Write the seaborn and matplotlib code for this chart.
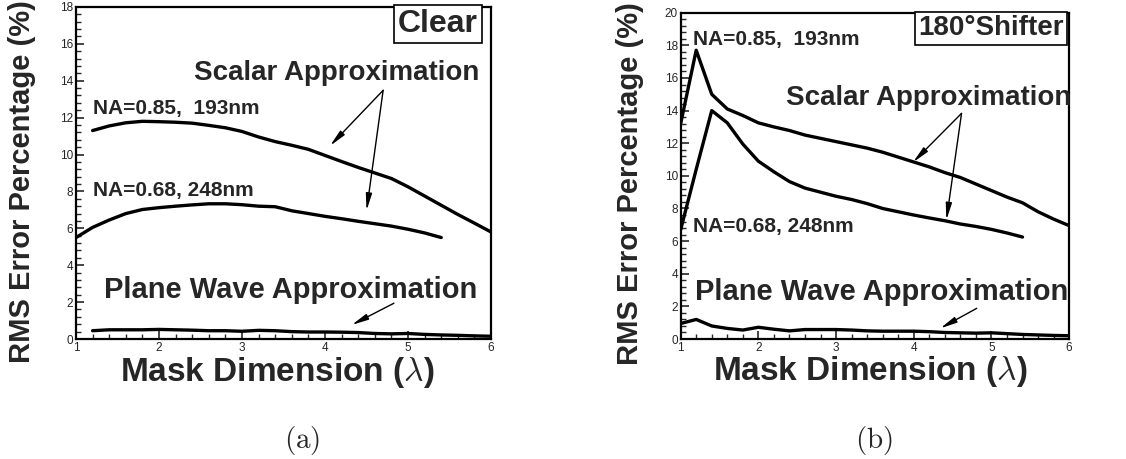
import numpy as np
import pandas as pd
import matplotlib
matplotlib.use('Agg')
import matplotlib.pyplot as plt
import seaborn as sns
from matplotlib.ticker import MultipleLocator

sns.set_style('white')
plt.rcParams['font.family'] = ['Liberation Sans', 'DejaVu Sans']
plt.rcParams['mathtext.fontset'] = 'cm'

# ---- data ----
# (a) Clear mask
clear_x_193 = [1.2, 1.4, 1.6, 1.8, 2.0, 2.2, 2.4, 2.6, 2.8, 3.0, 3.2, 3.4, 3.6,
               3.8, 4.0, 4.2, 4.4, 4.6, 4.8, 5.0, 5.2, 5.4, 5.6, 5.8, 6.0]
clear_y_193 = [11.3, 11.55, 11.72, 11.8, 11.78, 11.75, 11.7, 11.58, 11.45, 11.25,
               10.95, 10.7, 10.5, 10.28, 9.95, 9.62, 9.3, 9.0, 8.7, 8.25, 7.75,
               7.25, 6.75, 6.28, 5.8]
clear_x_248 = [1.0, 1.2, 1.4, 1.6, 1.8, 2.0, 2.2, 2.4, 2.6, 2.8, 3.0, 3.2, 3.4,
               3.6, 3.8, 4.0, 4.2, 4.4, 4.6, 4.8, 5.0, 5.2, 5.4]
clear_y_248 = [5.5, 6.05, 6.45, 6.8, 7.02, 7.12, 7.2, 7.27, 7.33, 7.33, 7.28, 7.2,
               7.17, 6.95, 6.8, 6.65, 6.52, 6.38, 6.25, 6.12, 5.95, 5.75, 5.5]
clear_x_pw = clear_x_193
clear_y_pw = [0.45, 0.5, 0.5, 0.5, 0.52, 0.5, 0.48, 0.45, 0.45, 0.42, 0.47, 0.45,
              0.4, 0.38, 0.38, 0.37, 0.35, 0.3, 0.28, 0.3, 0.25, 0.22, 0.2, 0.17,
              0.15]

# (b) 180 degree shifter
shift_x_193 = [1.0, 1.2, 1.4, 1.6, 1.8, 2.0, 2.2, 2.4, 2.6, 2.8, 3.0, 3.2, 3.4,
               3.6, 3.8, 4.0, 4.2, 4.4, 4.6, 4.8, 5.0, 5.2, 5.4, 5.6, 5.8, 6.0]
shift_y_193 = [13.2, 17.7, 15.0, 14.1, 13.7, 13.25, 13.0, 12.78, 12.5, 12.3, 12.1,
               11.9, 11.7, 11.45, 11.15, 10.85, 10.55, 10.2, 9.9, 9.5, 9.1, 8.7,
               8.35, 7.8, 7.35, 6.95]
shift_x_248 = [1.0, 1.2, 1.4, 1.6, 1.8, 2.0, 2.2, 2.4, 2.6, 2.8, 3.0, 3.2, 3.4,
               3.6, 3.8, 4.0, 4.2, 4.4, 4.6, 4.8, 5.0, 5.2, 5.4]
shift_y_248 = [6.7, 10.4, 14.0, 13.25, 11.95, 10.9, 10.25, 9.65, 9.25, 9.0, 8.75,
               8.55, 8.3, 8.0, 7.8, 7.6, 7.42, 7.25, 7.05, 6.9, 6.72, 6.5, 6.25]
shift_x_pw = shift_x_193
shift_y_pw = [0.95, 1.2, 0.8, 0.65, 0.55, 0.72, 0.6, 0.5, 0.58, 0.58, 0.58, 0.55,
              0.5, 0.48, 0.48, 0.48, 0.45, 0.4, 0.38, 0.36, 0.38, 0.33, 0.28,
              0.25, 0.22, 0.2]

x_ticks = [1, 2, 3, 4, 5, 6]

fig = plt.figure(figsize=(11.26, 4.59), dpi=100)
ax1 = fig.add_axes([0.0675, 0.2614, 0.3686, 0.7235])
ax2 = fig.add_axes([0.6045, 0.2614, 0.3450, 0.7109])


def draw_curves(ax, curves):
    for xs, ys in curves:
        df = pd.DataFrame({'x': xs, 'y': ys})
        sns.lineplot(data=df, x='x', y='y', ax=ax, color='black', lw=2.4,
                     sort=False, estimator=None)


def style_axes(ax, ymax, label_x):
    ax.set_xlim(1, 6)
    ax.set_ylim(0, ymax)
    ax.set_xticks(x_ticks)
    ax.set_xticklabels([str(t) for t in x_ticks])
    ax.yaxis.set_major_locator(MultipleLocator(2))
    ax.yaxis.set_minor_locator(MultipleLocator(0.4))
    ax.xaxis.set_minor_locator(MultipleLocator(0.2))
    ax.tick_params(which='both', direction='in', left=True, bottom=True,
                   top=False, right=False, labelsize=8.5, pad=2, width=1.2)
    ax.tick_params(which='major', length=6)
    ax.tick_params(which='minor', length=3.5, width=1)
    for s in ax.spines.values():
        s.set_linewidth(1.6)
        s.set_color('black')
    ax.set_xlabel(r'Mask Dimension ($\lambda$)', fontsize=24, fontweight='bold')
    ax.set_ylabel('RMS Error Percentage (%)', fontsize=21, fontweight='bold')
    ax.xaxis.set_label_coords(label_x, -0.1)
    ax.yaxis.set_label_coords(-0.13, 0.475)
    ax.yaxis.label.set_va('center')
    ax.xaxis.label.set_va('center')


arrow = dict(arrowstyle='-|>,head_length=1.0,head_width=0.18', lw=1,
             color='black', shrinkA=0, shrinkB=0)

# ---- (a) ----
draw_curves(ax1, [(clear_x_193, clear_y_193), (clear_x_248, clear_y_248),
                  (clear_x_pw, clear_y_pw)])
style_axes(ax1, 18, 0.484)
ax1.text(0.872, 0.949, 'Clear', transform=ax1.transAxes, ha='center',
         va='center', fontsize=23, fontweight='bold',
         bbox=dict(boxstyle='square,pad=0.12', fc='white', ec='black', lw=1.2))
ax1.text(4.14, 14.4, 'Scalar Approximation', ha='center', va='center',
         fontsize=20, fontweight='bold')
ax1.text(1.21, 12.48, 'NA=0.85,  193nm', ha='left', va='center',
         fontsize=15, fontweight='bold')
ax1.text(1.2, 8.05, 'NA=0.68, 248nm', ha='left', va='center',
         fontsize=15, fontweight='bold')
ax1.text(3.58, 2.66, 'Plane Wave Approximation', ha='center', va='center',
         fontsize=21, fontweight='bold')
ax1.annotate('', xy=(4.06, 10.47), xytext=(4.70, 13.48), arrowprops=arrow)
ax1.annotate('', xy=(4.50, 6.96), xytext=(4.70, 13.48), arrowprops=arrow)
ax1.annotate('', xy=(4.32, 0.76), xytext=(4.83, 1.94), arrowprops=arrow)

# ---- (b) ----
draw_curves(ax2, [(shift_x_193, shift_y_193), (shift_x_248, shift_y_248),
                  (shift_x_pw, shift_y_pw)])
style_axes(ax2, 20, 0.4875)
ax2.text(0.799, 0.952, '180°Shifter', transform=ax2.transAxes, ha='center',
         va='center', fontsize=20, fontweight='bold',
         bbox=dict(boxstyle='square,pad=0.12', fc='white', ec='black', lw=1.2))
ax2.text(4.19, 14.75, 'Scalar Approximation', ha='center', va='center',
         fontsize=20, fontweight='bold')
ax2.text(1.154, 18.37, 'NA=0.85,  193nm', ha='left', va='center',
         fontsize=15, fontweight='bold')
ax2.text(1.163, 6.88, 'NA=0.68, 248nm', ha='left', va='center',
         fontsize=15, fontweight='bold')
ax2.text(3.586, 2.9, 'Plane Wave Approximation', ha='center', va='center',
         fontsize=21, fontweight='bold')
ax2.annotate('', xy=(3.99, 10.83), xytext=(4.615, 13.83), arrowprops=arrow)
ax2.annotate('', xy=(4.42, 7.29), xytext=(4.615, 13.83), arrowprops=arrow)
ax2.annotate('', xy=(4.34, 0.65), xytext=(4.81, 1.88), arrowprops=arrow)

fig.text(0.268, 0.041, r'$\mathrm{(a)}$', ha='center', va='center', fontsize=21)
fig.text(0.776, 0.041, r'$\mathrm{(b)}$', ha='center', va='center', fontsize=21)

fig.savefig('out.png', dpi=100)
